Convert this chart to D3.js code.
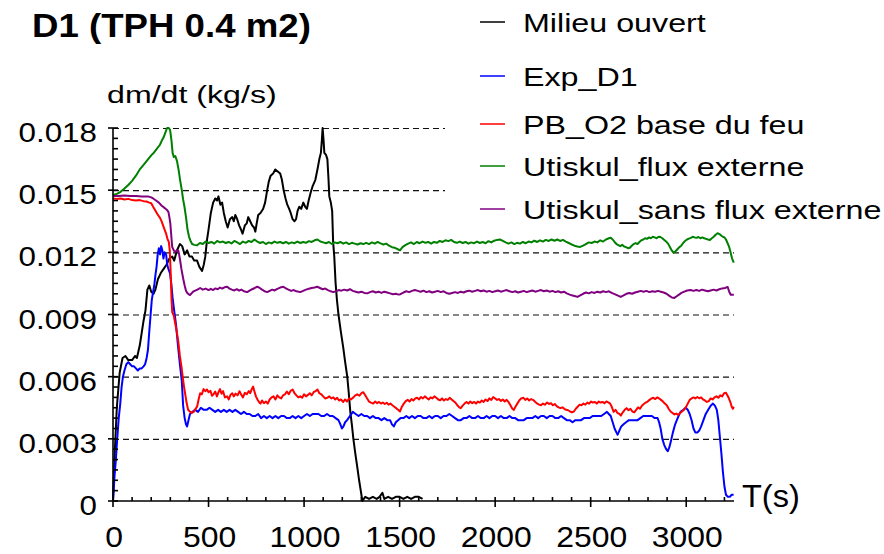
<!DOCTYPE html>
<html>
<head>
<meta charset="utf-8">
<script src="https://cdn.jsdelivr.net/npm/d3@7"></script>
<style>
  body { margin: 0; background: #fff; }
  svg { display: block; font-family: Arial, "Liberation Sans", sans-serif; }
</style>
</head>
<body>
<script>
const width = 884,
    height = 554

// axis ticks
const yTicks = [0, 0.003, 0.006, 0.009, 0.012, 0.015, 0.018]
const yTickLabels = ["0", "0.003", "0.006", "0.009", "0.012", "0.015", "0.018"]
const xTicks = [0, 500, 1000, 1500, 2000, 2500, 3000]
const xTickLabels = ["0", "500", "1000", "1500", "2000", "2500", "3000"]

// series: [t (s), dm/dt (kg/s)]
const milieuOuvert = [
  [0, 0], [10, 0.0025], [20, 0.0045], [35, 0.0062], [50, 0.0069], [65, 0.0070], [80, 0.0068], [100, 0.0068],
  [115, 0.0070], [125, 0.0069], [140, 0.0075], [150, 0.0081], [160, 0.0087], [170, 0.0092], [180, 0.0102],
  [190, 0.0104], [200, 0.0101], [212, 0.0100], [222, 0.0102], [235, 0.0107], [250, 0.0110], [265, 0.0112],
  [280, 0.0114], [295, 0.0117], [310, 0.0118], [320, 0.0116], [335, 0.0121], [350, 0.0124], [362, 0.0123],
  [375, 0.0119], [388, 0.0121], [400, 0.0118], [413, 0.0118], [425, 0.0116], [440, 0.0116], [452, 0.0113],
  [466, 0.0111], [475, 0.0114], [483, 0.0118], [492, 0.0126], [500, 0.0131], [512, 0.0139], [524, 0.0144],
  [535, 0.0146], [545, 0.0145], [552, 0.0147], [562, 0.0143], [571, 0.0144], [580, 0.0139], [590, 0.0135],
  [600, 0.0132], [612, 0.0136], [624, 0.0137], [632, 0.0135], [640, 0.0138], [650, 0.0136], [660, 0.0133],
  [670, 0.0131], [678, 0.0129], [690, 0.0133], [700, 0.0134], [708, 0.0137], [718, 0.0135], [728, 0.0133],
  [738, 0.0132], [745, 0.0130], [752, 0.0134], [760, 0.0138], [772, 0.0139], [786, 0.0141], [796, 0.0144],
  [807, 0.0150], [815, 0.0154], [825, 0.0157], [838, 0.0158], [849, 0.0160], [862, 0.0159], [875, 0.0158],
  [884, 0.0155], [893, 0.0150], [903, 0.0146], [912, 0.0143], [922, 0.0141], [930, 0.0139], [940, 0.0136],
  [950, 0.0135], [958, 0.0136], [966, 0.0140], [975, 0.0142], [985, 0.0141], [996, 0.0144], [1006, 0.0142],
  [1015, 0.0141], [1024, 0.0145], [1035, 0.0149], [1045, 0.0152], [1059, 0.0155], [1070, 0.0160],
  [1080, 0.0165], [1088, 0.0168], [1093, 0.0174], [1097, 0.0180], [1102, 0.0174], [1106, 0.0168],
  [1115, 0.0167], [1122, 0.0165], [1128, 0.0155], [1132, 0.0147], [1140, 0.0144], [1147, 0.0140],
  [1152, 0.0125], [1158, 0.0118], [1165, 0.0105], [1172, 0.0097], [1180, 0.0090], [1192, 0.0082],
  [1205, 0.0074], [1215, 0.0067], [1226, 0.0060], [1234, 0.0052], [1242, 0.0043], [1250, 0.0037],
  [1258, 0.0030], [1268, 0.0023], [1279, 0.0016], [1288, 0.0010], [1295, 0.0006], [1305, 0.0000],
  [1320, 0.0002], [1340, 0.0001], [1360, 0.0002], [1380, 0.0001], [1395, 0.0002], [1410, 0.0004],
  [1420, 0.0001], [1440, 0.0002], [1460, 0.0001], [1480, 0.0002], [1500, 0.0002], [1520, 0.0001],
  [1540, 0.0002], [1560, 0.0001], [1580, 0.0002], [1600, 0.0002], [1620, 0.0001]
]

const expD1 = [
  [0, 0], [8, 0.0012], [15, 0.0020], [22, 0.0030], [30, 0.0040], [38, 0.0047], [45, 0.0055], [52, 0.0060],
  [60, 0.0063], [70, 0.0066], [80, 0.0067], [90, 0.0066], [100, 0.0065], [110, 0.0065], [120, 0.0064],
  [130, 0.0063], [140, 0.0064], [150, 0.0064], [160, 0.0065], [168, 0.0066], [176, 0.0069], [183, 0.0073],
  [190, 0.0082], [196, 0.0089], [203, 0.0097], [210, 0.0101], [216, 0.0104], [222, 0.0109], [228, 0.0113],
  [234, 0.0119], [240, 0.0122], [246, 0.0119], [252, 0.0123], [258, 0.0121], [264, 0.0117], [270, 0.0120],
  [278, 0.0119], [284, 0.0114], [290, 0.0112], [298, 0.0110], [305, 0.0105], [312, 0.0098], [320, 0.0092],
  [330, 0.0085], [340, 0.0075], [350, 0.0066], [360, 0.0058], [367, 0.0046], [375, 0.0040], [382, 0.0037],
  [388, 0.0036], [395, 0.0039], [403, 0.0042], [415, 0.0043], [430, 0.0044], [445, 0.0043], [460, 0.0045],
  [475, 0.0044], [490, 0.0044], [505, 0.0045], [520, 0.0044], [535, 0.0043], [550, 0.0044], [565, 0.0043],
  [580, 0.0044], [595, 0.0043], [610, 0.0044], [625, 0.0043], [640, 0.0044], [655, 0.0043], [670, 0.0042],
  [685, 0.0043], [700, 0.0042], [715, 0.0042], [730, 0.0041], [745, 0.0041], [760, 0.0042], [775, 0.0040],
  [790, 0.0041], [805, 0.0040], [820, 0.0041], [835, 0.0040], [850, 0.0041], [865, 0.0040], [880, 0.0041],
  [895, 0.0041], [910, 0.0040], [925, 0.0040], [940, 0.0041], [955, 0.0040], [970, 0.0041], [985, 0.0040],
  [1000, 0.0041], [1015, 0.0042], [1030, 0.0041], [1045, 0.0042], [1060, 0.0042], [1075, 0.0042],
  [1090, 0.0041], [1105, 0.0041], [1120, 0.0042], [1135, 0.0041], [1150, 0.0041], [1165, 0.0040],
  [1180, 0.0039], [1190, 0.0037], [1198, 0.0035], [1206, 0.0036], [1215, 0.0038], [1225, 0.0039],
  [1240, 0.0041], [1255, 0.0043], [1270, 0.0042], [1285, 0.0041], [1300, 0.0042], [1315, 0.0041],
  [1330, 0.0041], [1345, 0.0040], [1360, 0.0041], [1375, 0.0040], [1390, 0.0040], [1405, 0.0039],
  [1420, 0.0040], [1435, 0.0039], [1450, 0.0039], [1460, 0.0037], [1470, 0.0036], [1480, 0.0038],
  [1492, 0.0039], [1505, 0.0040], [1520, 0.0040], [1535, 0.0041], [1550, 0.0040], [1565, 0.0041],
  [1580, 0.0040], [1595, 0.0041], [1610, 0.0041], [1625, 0.0040], [1640, 0.0040], [1655, 0.0041],
  [1670, 0.0040], [1685, 0.0041], [1700, 0.0041], [1715, 0.0040], [1730, 0.0041], [1745, 0.0041],
  [1760, 0.0042], [1775, 0.0041], [1790, 0.0040], [1805, 0.0039], [1820, 0.0039], [1835, 0.0040],
  [1850, 0.0040], [1865, 0.0041], [1880, 0.0040], [1895, 0.0040], [1910, 0.0041], [1925, 0.0040],
  [1940, 0.0040], [1955, 0.0041], [1970, 0.0040], [1985, 0.0041], [2000, 0.0041], [2015, 0.0040],
  [2030, 0.0041], [2045, 0.0040], [2060, 0.0040], [2075, 0.0041], [2090, 0.0040], [2105, 0.0040],
  [2120, 0.0039], [2135, 0.0039], [2150, 0.0039], [2165, 0.0040], [2180, 0.0040], [2195, 0.0040],
  [2210, 0.0041], [2225, 0.0040], [2240, 0.0041], [2255, 0.0041], [2270, 0.0040], [2285, 0.0041],
  [2300, 0.0041], [2315, 0.0040], [2330, 0.0040], [2345, 0.0041], [2360, 0.0040], [2375, 0.0039],
  [2390, 0.0039], [2405, 0.0038], [2420, 0.0039], [2435, 0.0039], [2450, 0.0039], [2465, 0.0040],
  [2480, 0.0040], [2495, 0.0040], [2510, 0.0041], [2525, 0.0041], [2540, 0.0041], [2555, 0.0041],
  [2570, 0.0042], [2585, 0.0043], [2595, 0.0042], [2605, 0.0041], [2615, 0.0038], [2625, 0.0035],
  [2635, 0.0033], [2641, 0.0032], [2650, 0.0034], [2660, 0.0036], [2672, 0.0037], [2685, 0.0038],
  [2700, 0.0039], [2715, 0.0039], [2730, 0.0039], [2745, 0.0039], [2760, 0.0040], [2775, 0.0041],
  [2790, 0.0041], [2805, 0.0041], [2820, 0.0041], [2835, 0.0040], [2850, 0.0040], [2858, 0.0038],
  [2866, 0.0035], [2875, 0.0030], [2885, 0.0027], [2895, 0.0025], [2903, 0.0024], [2912, 0.0026],
  [2920, 0.0029], [2930, 0.0033], [2942, 0.0037], [2955, 0.0040], [2970, 0.0043], [2985, 0.0044],
  [2997, 0.0045], [3008, 0.0044], [3018, 0.0042], [3028, 0.0039], [3038, 0.0035], [3048, 0.0033],
  [3058, 0.0033], [3068, 0.0034], [3078, 0.0036], [3090, 0.0039], [3102, 0.0042], [3115, 0.0044],
  [3128, 0.0046], [3140, 0.0047], [3150, 0.0046], [3160, 0.0044], [3168, 0.0039], [3176, 0.0031],
  [3184, 0.0023], [3192, 0.0014], [3200, 0.0007], [3208, 0.0003], [3218, 0.0002], [3228, 0.0002],
  [3238, 0.0003], [3248, 0.0003]
]

const pbO2 = [
  [0, 0.01460], [20, 0.01458], [40, 0.01460], [60, 0.01455], [80, 0.01458], [100, 0.01452], [120, 0.01450],
  [140, 0.01452], [160, 0.01447], [175, 0.01445], [190, 0.01440], [200, 0.01437], [210, 0.01420],
  [220, 0.01404], [232, 0.01385], [246, 0.01366], [255, 0.01348], [262, 0.01330], [270, 0.01310],
  [278, 0.01290], [285, 0.01265], [292, 0.01250], [297, 0.01210], [302, 0.01100], [306, 0.00980],
  [310, 0.00910], [318, 0.00895], [325, 0.00860], [333, 0.00820], [341, 0.00775], [350, 0.00700],
  [358, 0.00650], [366, 0.00590], [372, 0.00550], [378, 0.00515], [385, 0.00475], [393, 0.00440],
  [402, 0.00432], [412, 0.00425], [422, 0.00430], [432, 0.00445], [440, 0.00455], [448, 0.00490],
  [456, 0.00520], [465, 0.00515], [474, 0.00540], [483, 0.00530], [492, 0.00538], [500, 0.00525],
  [510, 0.00532], [518, 0.00508], [526, 0.00515], [535, 0.00528], [544, 0.00505], [552, 0.00525],
  [560, 0.00540], [568, 0.00518], [576, 0.00530], [586, 0.00500], [597, 0.00505], [606, 0.00490],
  [615, 0.00512], [624, 0.00520], [632, 0.00505], [642, 0.00518], [652, 0.00510], [662, 0.00530],
  [670, 0.00515], [680, 0.00500], [690, 0.00522], [700, 0.00515], [710, 0.00530], [718, 0.00520],
  [726, 0.00540], [733, 0.00552], [740, 0.00530], [748, 0.00505], [756, 0.00490], [764, 0.00478],
  [772, 0.00470], [780, 0.00485], [790, 0.00472], [800, 0.00480], [810, 0.00470], [820, 0.00490],
  [830, 0.00500], [840, 0.00505], [850, 0.00490], [860, 0.00510], [870, 0.00500], [880, 0.00495],
  [890, 0.00510], [900, 0.00515], [910, 0.00528], [920, 0.00515], [930, 0.00532], [940, 0.00538],
  [950, 0.00520], [960, 0.00510], [970, 0.00500], [980, 0.00505], [990, 0.00498], [1000, 0.00515],
  [1010, 0.00505], [1020, 0.00512], [1030, 0.00520], [1040, 0.00510], [1050, 0.00525], [1060, 0.00530],
  [1070, 0.00538], [1080, 0.00520], [1090, 0.00515], [1100, 0.00505], [1110, 0.00495], [1122, 0.00498],
  [1132, 0.00505], [1142, 0.00495], [1153, 0.00500], [1163, 0.00490], [1173, 0.00498], [1183, 0.00485],
  [1193, 0.00490], [1205, 0.00478], [1215, 0.00490], [1225, 0.00480], [1235, 0.00495], [1245, 0.00490],
  [1258, 0.00500], [1268, 0.00510], [1278, 0.00515], [1290, 0.00508], [1300, 0.00520], [1310, 0.00525],
  [1320, 0.00510], [1330, 0.00495], [1340, 0.00480], [1350, 0.00475], [1362, 0.00470], [1372, 0.00480],
  [1382, 0.00472], [1392, 0.00478], [1402, 0.00470], [1412, 0.00475], [1422, 0.00468], [1432, 0.00474],
  [1442, 0.00465], [1452, 0.00470], [1462, 0.00462], [1472, 0.00455], [1482, 0.00448], [1492, 0.00440],
  [1502, 0.00432], [1512, 0.00455], [1522, 0.00470], [1532, 0.00482], [1542, 0.00488], [1552, 0.00480],
  [1562, 0.00492], [1572, 0.00485], [1582, 0.00495], [1592, 0.00498], [1602, 0.00490], [1612, 0.00502],
  [1622, 0.00495], [1632, 0.00505], [1642, 0.00497], [1652, 0.00490], [1662, 0.00500], [1672, 0.00495],
  [1682, 0.00505], [1692, 0.00498], [1702, 0.00490], [1712, 0.00486], [1722, 0.00495], [1732, 0.00485],
  [1742, 0.00492], [1752, 0.00488], [1762, 0.00498], [1772, 0.00490], [1782, 0.00482], [1792, 0.00475],
  [1802, 0.00462], [1812, 0.00452], [1820, 0.00448], [1830, 0.00460], [1840, 0.00470], [1850, 0.00478],
  [1860, 0.00470], [1870, 0.00480], [1880, 0.00472], [1890, 0.00478], [1900, 0.00470], [1910, 0.00480],
  [1920, 0.00475], [1930, 0.00485], [1940, 0.00478], [1950, 0.00490], [1960, 0.00482], [1970, 0.00495],
  [1980, 0.00488], [1990, 0.00502], [2000, 0.00495], [2010, 0.00488], [2020, 0.00492], [2030, 0.00483],
  [2040, 0.00490], [2050, 0.00480], [2060, 0.00488], [2070, 0.00478], [2080, 0.00462], [2090, 0.00445],
  [2098, 0.00440], [2106, 0.00455], [2116, 0.00470], [2126, 0.00485], [2136, 0.00495], [2148, 0.00498],
  [2158, 0.00488], [2168, 0.00495], [2178, 0.00485], [2188, 0.00492], [2200, 0.00487], [2210, 0.00478],
  [2220, 0.00470], [2230, 0.00465], [2240, 0.00462], [2250, 0.00470], [2260, 0.00465], [2272, 0.00475],
  [2282, 0.00468], [2292, 0.00472], [2302, 0.00462], [2312, 0.00468], [2322, 0.00458], [2332, 0.00452],
  [2342, 0.00448], [2352, 0.00452], [2362, 0.00445], [2372, 0.00440], [2382, 0.00438], [2392, 0.00432],
  [2402, 0.00428], [2412, 0.00432], [2422, 0.00445], [2432, 0.00455], [2442, 0.00465], [2452, 0.00462],
  [2462, 0.00470], [2472, 0.00465], [2482, 0.00475], [2492, 0.00470], [2502, 0.00480], [2512, 0.00475],
  [2522, 0.00478], [2532, 0.00470], [2542, 0.00480], [2552, 0.00475], [2562, 0.00478], [2572, 0.00472],
  [2582, 0.00480], [2592, 0.00476], [2602, 0.00470], [2610, 0.00455], [2620, 0.00430], [2630, 0.00440],
  [2640, 0.00425], [2650, 0.00420], [2658, 0.00412], [2668, 0.00428], [2678, 0.00440], [2688, 0.00448],
  [2698, 0.00438], [2708, 0.00445], [2718, 0.00432], [2728, 0.00428], [2738, 0.00440], [2748, 0.00452],
  [2758, 0.00445], [2768, 0.00460], [2778, 0.00468], [2788, 0.00475], [2798, 0.00480], [2808, 0.00488],
  [2818, 0.00495], [2828, 0.00498], [2838, 0.00492], [2848, 0.00500], [2858, 0.00495], [2868, 0.00488],
  [2878, 0.00480], [2888, 0.00470], [2898, 0.00462], [2908, 0.00445], [2918, 0.00432], [2928, 0.00425],
  [2938, 0.00418], [2948, 0.00422], [2958, 0.00415], [2968, 0.00425], [2978, 0.00432], [2988, 0.00440],
  [2998, 0.00452], [3008, 0.00470], [3018, 0.00488], [3028, 0.00495], [3038, 0.00500], [3048, 0.00495],
  [3058, 0.00502], [3068, 0.00496], [3078, 0.00500], [3088, 0.00490], [3098, 0.00485], [3108, 0.00478],
  [3118, 0.00482], [3128, 0.00495], [3138, 0.00490], [3148, 0.00500], [3158, 0.00505], [3168, 0.00498],
  [3178, 0.00510], [3188, 0.00505], [3198, 0.00520], [3208, 0.00522], [3215, 0.00510], [3222, 0.00498],
  [3230, 0.00480], [3238, 0.00455], [3244, 0.00445], [3249, 0.00455]
]

const utiskulFlux = [
  [0, 0.01477], [20, 0.01482], [40, 0.01492], [60, 0.01508], [80, 0.01525], [100, 0.01545], [120, 0.01570],
  [140, 0.01600], [160, 0.01622], [180, 0.01645], [200, 0.01668], [215, 0.01682], [230, 0.01700],
  [245, 0.01718], [255, 0.01738], [265, 0.01755], [275, 0.01780], [283, 0.01800], [292, 0.01800],
  [299, 0.01790], [306, 0.01740], [312, 0.01680], [318, 0.01660], [326, 0.01665], [335, 0.01640],
  [343, 0.01600], [351, 0.01550], [360, 0.01500], [367, 0.01455], [374, 0.01420], [382, 0.01370],
  [390, 0.01310], [398, 0.01275], [406, 0.01255], [414, 0.01240], [425, 0.01236], [440, 0.01234],
  [455, 0.01245], [470, 0.01240], [485, 0.01252], [500, 0.01245], [515, 0.01250], [530, 0.01242],
  [545, 0.01255], [560, 0.01248], [575, 0.01252], [590, 0.01245], [605, 0.01250], [620, 0.01243],
  [635, 0.01255], [650, 0.01248], [665, 0.01240], [680, 0.01252], [695, 0.01246], [710, 0.01255],
  [725, 0.01250], [740, 0.01262], [755, 0.01252], [770, 0.01245], [785, 0.01250], [800, 0.01240],
  [815, 0.01248], [830, 0.01243], [845, 0.01252], [860, 0.01246], [875, 0.01250], [890, 0.01244],
  [905, 0.01250], [920, 0.01242], [935, 0.01248], [950, 0.01244], [965, 0.01252], [980, 0.01245],
  [995, 0.01250], [1010, 0.01246], [1025, 0.01254], [1040, 0.01250], [1055, 0.01258], [1070, 0.01262],
  [1085, 0.01252], [1100, 0.01248], [1115, 0.01244], [1130, 0.01250], [1145, 0.01240], [1160, 0.01248],
  [1175, 0.01244], [1190, 0.01250], [1205, 0.01242], [1220, 0.01248], [1235, 0.01240], [1250, 0.01246],
  [1265, 0.01242], [1280, 0.01238], [1295, 0.01244], [1310, 0.01240], [1325, 0.01246], [1340, 0.01240],
  [1355, 0.01248], [1370, 0.01242], [1385, 0.01250], [1400, 0.01243], [1415, 0.01238], [1430, 0.01242],
  [1445, 0.01232], [1460, 0.01225], [1475, 0.01222], [1490, 0.01215], [1502, 0.01210], [1515, 0.01225],
  [1530, 0.01235], [1545, 0.01242], [1560, 0.01248], [1575, 0.01240], [1590, 0.01250], [1605, 0.01244],
  [1620, 0.01252], [1635, 0.01246], [1650, 0.01250], [1665, 0.01242], [1680, 0.01250], [1695, 0.01246],
  [1710, 0.01255], [1725, 0.01250], [1740, 0.01258], [1755, 0.01254], [1770, 0.01260], [1785, 0.01250],
  [1800, 0.01246], [1815, 0.01252], [1830, 0.01245], [1845, 0.01250], [1860, 0.01242], [1875, 0.01248],
  [1890, 0.01244], [1905, 0.01252], [1920, 0.01245], [1935, 0.01250], [1950, 0.01244], [1965, 0.01254],
  [1980, 0.01248], [1995, 0.01256], [2010, 0.01260], [2025, 0.01262], [2040, 0.01255], [2055, 0.01248],
  [2070, 0.01242], [2085, 0.01248], [2100, 0.01240], [2115, 0.01246], [2130, 0.01242], [2145, 0.01250],
  [2160, 0.01244], [2175, 0.01252], [2190, 0.01248], [2205, 0.01256], [2220, 0.01250], [2235, 0.01258],
  [2250, 0.01252], [2265, 0.01260], [2280, 0.01255], [2295, 0.01262], [2310, 0.01256], [2325, 0.01262],
  [2340, 0.01255], [2355, 0.01260], [2370, 0.01252], [2385, 0.01245], [2400, 0.01238], [2415, 0.01232],
  [2430, 0.01228], [2445, 0.01226], [2460, 0.01232], [2475, 0.01240], [2490, 0.01248], [2505, 0.01245],
  [2520, 0.01252], [2535, 0.01248], [2550, 0.01258], [2565, 0.01252], [2580, 0.01262], [2595, 0.01268],
  [2605, 0.01270], [2615, 0.01262], [2625, 0.01250], [2635, 0.01240], [2645, 0.01235], [2655, 0.01230],
  [2665, 0.01236], [2675, 0.01228], [2685, 0.01225], [2695, 0.01220], [2705, 0.01222], [2715, 0.01232],
  [2725, 0.01240], [2735, 0.01245], [2745, 0.01240], [2755, 0.01250], [2765, 0.01258], [2775, 0.01262],
  [2785, 0.01268], [2795, 0.01265], [2805, 0.01272], [2815, 0.01268], [2825, 0.01275], [2835, 0.01272],
  [2845, 0.01268], [2855, 0.01275], [2865, 0.01274], [2875, 0.01268], [2885, 0.01260], [2895, 0.01252],
  [2905, 0.01242], [2915, 0.01225], [2925, 0.01208], [2934, 0.01198], [2944, 0.01205], [2954, 0.01215],
  [2964, 0.01225], [2974, 0.01232], [2984, 0.01245], [2994, 0.01255], [3004, 0.01262], [3014, 0.01266],
  [3024, 0.01270], [3034, 0.01275], [3044, 0.01272], [3054, 0.01270], [3064, 0.01274], [3074, 0.01268],
  [3084, 0.01272], [3094, 0.01268], [3104, 0.01265], [3114, 0.01262], [3124, 0.01260], [3134, 0.01268],
  [3144, 0.01275], [3154, 0.01285], [3164, 0.01292], [3174, 0.01288], [3184, 0.01280], [3192, 0.01275],
  [3200, 0.01272], [3208, 0.01262], [3216, 0.01245], [3224, 0.01228], [3232, 0.01200], [3240, 0.01170],
  [3249, 0.01150]
]

const utiskulSans = [
  [0, 0.01472], [30, 0.01472], [60, 0.01474], [90, 0.01472], [120, 0.01472], [150, 0.01470], [183, 0.01470],
  [200, 0.01465], [210, 0.01460], [225, 0.01450], [240, 0.01440], [255, 0.01425], [265, 0.01418],
  [275, 0.01410], [283, 0.01404], [290, 0.01395], [295, 0.01370], [300, 0.01340], [305, 0.01280],
  [310, 0.01225], [318, 0.01210], [325, 0.01202], [333, 0.01208], [341, 0.01210], [346, 0.01190],
  [351, 0.01163], [358, 0.01120], [367, 0.01075], [375, 0.01040], [382, 0.01015], [388, 0.01005],
  [395, 0.00998], [403, 0.00994], [411, 0.01002], [419, 0.01010], [430, 0.01015], [442, 0.01020],
  [456, 0.01028], [470, 0.01020], [485, 0.01025], [500, 0.01018], [512, 0.01024], [524, 0.01018],
  [536, 0.01026], [548, 0.01022], [560, 0.01030], [572, 0.01025], [585, 0.01032], [597, 0.01034],
  [610, 0.01025], [622, 0.01020], [635, 0.01016], [648, 0.01022], [660, 0.01015], [672, 0.01020],
  [685, 0.01012], [702, 0.01008], [715, 0.01015], [728, 0.01022], [742, 0.01028], [755, 0.01034],
  [768, 0.01028], [780, 0.01020], [793, 0.01012], [807, 0.01008], [820, 0.01014], [833, 0.01020],
  [846, 0.01016], [860, 0.01024], [875, 0.01030], [891, 0.01034], [905, 0.01026], [918, 0.01020],
  [932, 0.01014], [946, 0.01018], [960, 0.01012], [980, 0.01008], [995, 0.01014], [1010, 0.01020],
  [1025, 0.01024], [1040, 0.01028], [1055, 0.01030], [1069, 0.01034], [1083, 0.01028], [1097, 0.01022],
  [1111, 0.01025], [1125, 0.01018], [1139, 0.01012], [1153, 0.01008], [1167, 0.01012], [1181, 0.01018],
  [1195, 0.01015], [1210, 0.01020], [1225, 0.01016], [1240, 0.01022], [1255, 0.01014], [1270, 0.01010],
  [1285, 0.01006], [1300, 0.01010], [1315, 0.01004], [1331, 0.01002], [1345, 0.01008], [1360, 0.01012],
  [1375, 0.01006], [1390, 0.01010], [1405, 0.01004], [1420, 0.01010], [1435, 0.01006], [1450, 0.01002],
  [1465, 0.00998], [1480, 0.01000], [1495, 0.00996], [1504, 0.00998], [1520, 0.01006], [1535, 0.01012],
  [1550, 0.01008], [1565, 0.01014], [1580, 0.01018], [1595, 0.01014], [1610, 0.01010], [1625, 0.01015],
  [1640, 0.01008], [1655, 0.01012], [1670, 0.01006], [1685, 0.01010], [1700, 0.01014], [1715, 0.01008],
  [1730, 0.01012], [1745, 0.01004], [1760, 0.01000], [1775, 0.01004], [1790, 0.01008], [1805, 0.01004],
  [1820, 0.01010], [1835, 0.01006], [1850, 0.01012], [1865, 0.01015], [1880, 0.01010], [1895, 0.01014],
  [1910, 0.01018], [1925, 0.01012], [1940, 0.01016], [1955, 0.01010], [1970, 0.01014], [1985, 0.01008],
  [2000, 0.01012], [2015, 0.01016], [2030, 0.01010], [2045, 0.01014], [2060, 0.01018], [2075, 0.01012],
  [2090, 0.01008], [2105, 0.01012], [2120, 0.01006], [2135, 0.01010], [2150, 0.01014], [2165, 0.01008],
  [2180, 0.01012], [2195, 0.01016], [2210, 0.01010], [2225, 0.01014], [2240, 0.01018], [2255, 0.01012],
  [2270, 0.01016], [2285, 0.01010], [2300, 0.01014], [2315, 0.01008], [2330, 0.01012], [2345, 0.01006],
  [2360, 0.01010], [2375, 0.01002], [2390, 0.00996], [2405, 0.00992], [2420, 0.00988], [2431, 0.00985],
  [2445, 0.00992], [2460, 0.01000], [2475, 0.01006], [2490, 0.01002], [2505, 0.01008], [2520, 0.01004],
  [2535, 0.01010], [2550, 0.01006], [2565, 0.01012], [2580, 0.01008], [2595, 0.01012], [2610, 0.01004],
  [2625, 0.00998], [2640, 0.00992], [2657, 0.00985], [2672, 0.00992], [2687, 0.01000], [2702, 0.01004],
  [2717, 0.01000], [2732, 0.01006], [2747, 0.01010], [2762, 0.01014], [2777, 0.01010], [2792, 0.01014],
  [2807, 0.01008], [2822, 0.01012], [2837, 0.01010], [2852, 0.01014], [2867, 0.01010], [2882, 0.01006],
  [2897, 0.01000], [2912, 0.00990], [2925, 0.00982], [2938, 0.00980], [2950, 0.00988], [2962, 0.00996],
  [2975, 0.01004], [2990, 0.01010], [3005, 0.01016], [3023, 0.01018], [3038, 0.01014], [3053, 0.01018],
  [3068, 0.01014], [3083, 0.01020], [3098, 0.01016], [3113, 0.01012], [3128, 0.01016], [3143, 0.01020],
  [3158, 0.01016], [3173, 0.01022], [3188, 0.01026], [3203, 0.01028], [3217, 0.01033], [3225, 0.01010],
  [3233, 0.00995], [3249, 0.00995]
]

const seriesNames = ["Milieu ouvert", "Exp_D1", "PB_O2 base du feu", "Utiskul_flux externe", "Utiskul_sans flux externe"]
const seriesColors = ["#000000", "#0000ff", "#ff0000", "#008000", "#800080"]
const seriesData = [milieuOuvert, expD1, pbO2, utiskulFlux, utiskulSans]

const x = d3.scaleLinear().domain([0, 3250]).range([113, 734])
const y = d3.scaleLinear().domain([0, 0.018]).range([501, 128])

const svg = d3.select("body")
    .append("svg")
    .attr("width", width)
    .attr("height", height)

// stretched text helper (the labels are rendered wide)
function label(px, py, txt, size, sx, anchor, weight) {
  return svg.append("text")
      .attr("transform", `translate(${px},${py}) scale(${sx},1)`)
      .attr("font-size", size)
      .attr("font-weight", weight || "normal")
      .attr("text-anchor", anchor || "start")
      .text(txt)
}

// dashed grid lines
svg.append("g")
    .selectAll("line")
    .data(yTicks.filter(d => d > 0))
    .join("line")
    .attr("x1", x(0))
    .attr("x2", x(3250))
    .attr("y1", d => y(d) + 0.5)
    .attr("y2", d => y(d) + 0.5)
    .attr("stroke", "#111")
    .attr("stroke-width", 1.2)
    .attr("stroke-dasharray", "6,4")

// curves
const line = d3.line()
    .x(d => x(d[0]))
    .y(d => y(d[1]))

svg.append("g")
    .selectAll("path")
    .data(seriesData)
    .join("path")
    .attr("d", line)
    .attr("fill", "none")
    .attr("stroke", (d, i) => seriesColors[i])
    .attr("stroke-width", 2)
    .attr("stroke-linejoin", "round")

// axes
const xMinor = d3.range(0, 3201, 100)
const yMinor = d3.range(0, 0.01801, 0.0005)
const ax = svg.append("g").attr("stroke", "#000").attr("stroke-width", 1.6)

ax.append("line").attr("x1", x(0)).attr("x2", x(3250)).attr("y1", y(0)).attr("y2", y(0))
ax.append("line").attr("x1", x(0)).attr("x2", x(0)).attr("y1", y(0)).attr("y2", y(0.018))

ax.selectAll(".xm")
    .data(xMinor)
    .join("line")
    .attr("x1", d => x(d)).attr("x2", d => x(d))
    .attr("y1", d => y(0) - 4)
    .attr("y2", d => d % 500 === 0 ? y(0) + 6 : y(0))

ax.selectAll(".ym")
    .data(yMinor)
    .join("line")
    .attr("y1", d => y(d)).attr("y2", d => y(d))
    .attr("x1", (d, i) => i % 6 === 0 ? x(0) - 5 : x(0))
    .attr("x2", x(0) + 5)

// tick labels
yTicks.forEach((d, i) => label(97, y(d) + 14, yTickLabels[i], 28, 1.12, "end"))
xTicks.forEach((d, i) => label(x(d) + 1, 547, xTickLabels[i], 29, 1.1, "middle"))

// titles
label(32, 37, "D1 (TPH 0.4 m2)", 33, 1.11, "start", "bold")
label(107, 103, "dm/dt (kg/s)", 24, 1.34)
label(742, 507, "T(s)", 31, 1.05)

// legend (white box over the grid)
const legendY = [22, 76, 124, 166, 209]
svg.append("rect")
    .attr("x", 445).attr("y", 0)
    .attr("width", width - 445).attr("height", 228)
    .attr("fill", "#fff")

seriesNames.forEach((name, i) => {
  svg.append("line")
      .attr("x1", 480).attr("x2", 505)
      .attr("y1", legendY[i]).attr("y2", legendY[i])
      .attr("stroke", seriesColors[i])
      .attr("stroke-width", 1.5)
  label(523, legendY[i] + 10, name, 25, 1.29)
})
</script>
</body>
</html>
